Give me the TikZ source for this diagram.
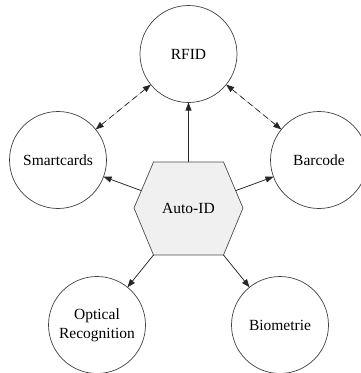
\documentclass[tikz,border=0pt]{standalone}
\usepackage{fontspec}
\setmainfont{Liberation Serif}
\usetikzlibrary{arrows.meta}
\begin{document}
\begin{tikzpicture}[x=1pt,y=-1pt,
  idtech/.style={circle,draw=black!75,line width=0.7pt,minimum size=97pt,
    inner sep=0pt,outer sep=0pt,align=center,font=\fontsize{15.5}{19}\selectfont},
  feed/.style={-{Triangle[length=8pt,width=6pt]},line width=0.7pt,draw=black!85,fill=black},
  link/.style={{Triangle[length=8pt,width=6pt]}-{Triangle[length=8pt,width=6pt]},
    line width=0.7pt,dash pattern=on 6pt off 4pt,draw=black!85,fill=black}]
\useasboundingbox (0,0) rectangle (360,373);

% central hexagon
\draw[fill=black!6,draw=black!70,line width=0.7pt]
  (134,208) -- (153.5,162) -- (223.5,162) -- (243,208)
  -- (223.5,255) -- (153.5,255) -- cycle;
\node[font=\fontsize{15.5}{19}\selectfont] (auto) at (188.5,208) {Auto-ID};

% exit points on the hexagon border
\coordinate (hTop) at (188.5,162);
\coordinate (hLeft) at (141.35,190.66);
\coordinate (hRight) at (235.65,190.66);
\coordinate (hBL) at (153.5,255);
\coordinate (hBR) at (223.5,255);

% technologies
\node[idtech] (rfid) at (188.5,54) {RFID};
\node[idtech] (smart) at (58,160) {Smartcards};
\node[idtech] (bar) at (319,160) {Barcode};
\node[idtech] (ocr) at (97,325) {Optical\\Recognition};
\node[idtech] (bio) at (280,325) {Biometrie};

% connectors
\draw[feed] (hTop) -- (rfid);
\draw[feed] (hLeft) -- (smart);
\draw[feed] (hRight) -- (bar);
\draw[feed] (hBL) -- (ocr);
\draw[feed] (hBR) -- (bio);
\draw[link] (rfid) -- (smart);
\draw[link] (rfid) -- (bar);
\end{tikzpicture}
\end{document}
